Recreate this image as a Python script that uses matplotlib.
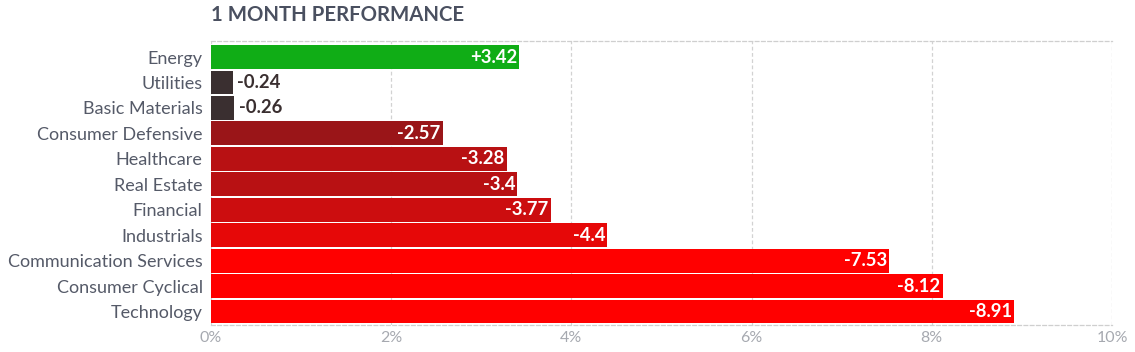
import matplotlib
matplotlib.use("Agg")
import matplotlib.pyplot as plt
from matplotlib.ticker import FuncFormatter

categories = ["Energy", "Utilities", "Basic Materials", "Consumer Defensive", "Healthcare",
              "Real Estate", "Financial", "Industrials", "Communication Services",
              "Consumer Cyclical", "Technology"]
values = [3.42, -0.24, -0.26, -2.57, -3.28, -3.4, -3.77, -4.4, -7.53, -8.12, -8.91]
colors = ["#10ad16", "#3a2f30", "#3a2f30", "#9a1518", "#b81113", "#b81113",
          "#cc0d0f", "#e60808", "#ff0000", "#ff0000", "#ff0000"]
xticks = [0, 2, 4, 6, 8, 10]
title = "1 MONTH PERFORMANCE"

plt.rcParams['font.family'] = ['Lato', 'DejaVu Sans']

fig = plt.figure(figsize=(11.35, 3.52), dpi=100)
ax = fig.add_axes([211/1135, 1-325/352, (1112-211)/1135, (325-41)/352])

ypos = list(range(len(categories)))
mags = [abs(v) for v in values]
ax.barh(ypos, mags, height=0.94, color=colors, zorder=2)

ax.set_xlim(0, 10)
ax.set_ylim(10.53, -0.63)
ax.set_yticks(ypos)
ax.set_yticklabels(categories, fontsize=13, color="#555a68")
ax.set_xticks(xticks)
ax.xaxis.set_major_formatter(FuncFormatter(lambda x, p: f"{x:g}%"))
ax.tick_params(axis='x', colors="#a6a9b0", labelsize=11.5, length=0, pad=4)
ax.tick_params(axis='y', length=0, pad=6)

for s in ['left', 'right']:
    ax.spines[s].set_visible(False)
for s in ['top', 'bottom']:
    ax.spines[s].set_linestyle((0, (3, 2)))
    ax.spines[s].set_color("#cfcfcf")
    ax.spines[s].set_linewidth(0.9)

ax.grid(axis='x', color="#d2d2d2", linestyle=(0, (3, 2)), linewidth=0.9, zorder=0)
ax.set_axisbelow(True)

for y, v, m, c in zip(ypos, values, mags, colors):
    label = f"{v:+g}"
    if m < 1.0:
        ax.annotate(label, (m, y), xytext=(3.5, 0), textcoords="offset points",
                    ha='left', va='center', fontsize=13.3, fontweight='bold',
                    color="#3a2f30", zorder=3)
    else:
        ax.annotate(label, (m, y), xytext=(-1.5, 0), textcoords="offset points",
                    ha='right', va='center', fontsize=13.3, fontweight='bold',
                    color="white", zorder=3)

fig.text(211/1135, 1-15/352, title, ha='left', va='center', fontsize=14.7,
         fontweight='bold', color="#4a5060")

fig.savefig("out.png", dpi=100)
